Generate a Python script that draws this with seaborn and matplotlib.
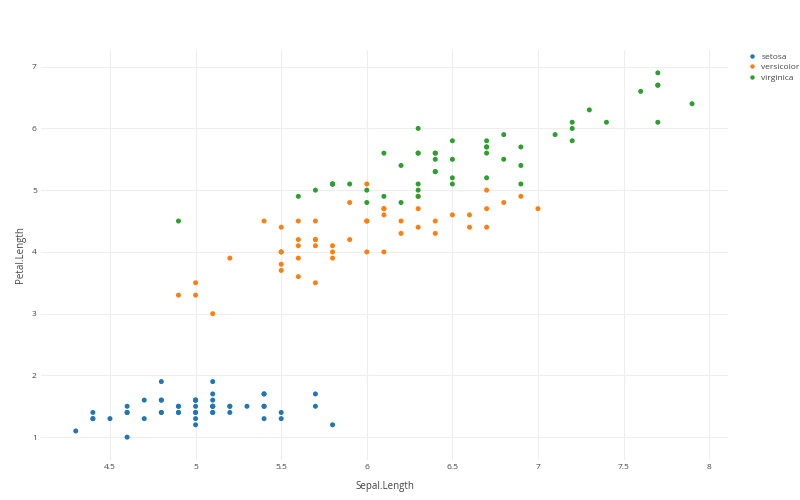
import matplotlib
matplotlib.use("Agg")
import matplotlib.pyplot as plt
import seaborn as sns
import pandas as pd

setosa_sepal = [5.1,4.9,4.7,4.6,5.0,5.4,4.6,5.0,4.4,4.9,5.4,4.8,4.8,4.3,5.8,5.7,5.4,5.1,5.7,5.1,
                5.4,5.1,4.6,5.1,4.8,5.0,5.0,5.2,5.2,4.7,4.8,5.4,5.2,5.5,4.9,5.0,5.5,4.9,4.4,5.1,
                5.0,4.5,4.4,5.0,5.1,4.8,5.1,4.6,5.3,5.0]
setosa_petal = [1.4,1.4,1.3,1.5,1.4,1.7,1.4,1.5,1.4,1.5,1.5,1.6,1.4,1.1,1.2,1.5,1.3,1.4,1.7,1.5,
                1.7,1.5,1.0,1.7,1.9,1.6,1.6,1.5,1.4,1.6,1.6,1.5,1.5,1.4,1.5,1.2,1.3,1.4,1.3,1.5,
                1.3,1.3,1.3,1.6,1.9,1.4,1.6,1.4,1.5,1.4]
versicolor_sepal = [7.0,6.4,6.9,5.5,6.5,5.7,6.3,4.9,6.6,5.2,5.0,5.9,6.0,6.1,5.6,6.7,5.6,5.8,6.2,5.6,
                    5.9,6.1,6.3,6.1,6.4,6.6,6.8,6.7,6.0,5.7,5.5,5.5,5.8,6.0,5.4,6.0,6.7,6.3,5.6,5.5,
                    5.5,6.1,5.8,5.0,5.6,5.7,5.7,6.2,5.1,5.7]
versicolor_petal = [4.7,4.5,4.9,4.0,4.6,4.5,4.7,3.3,4.6,3.9,3.5,4.2,4.0,4.7,3.6,4.4,4.5,4.1,4.5,3.9,
                    4.8,4.0,4.9,4.7,4.3,4.4,4.8,5.0,4.5,3.5,3.8,3.7,3.9,5.1,4.5,4.5,4.7,4.4,4.1,4.0,
                    4.4,4.6,4.0,3.3,4.2,4.2,4.2,4.3,3.0,4.1]
virginica_sepal = [6.3,5.8,7.1,6.3,6.5,7.6,4.9,7.3,6.7,7.2,6.5,6.4,6.8,5.7,5.8,6.4,6.5,7.7,7.7,6.0,
                   6.9,5.6,7.7,6.3,6.7,7.2,6.2,6.1,6.4,7.2,7.4,7.9,6.4,6.3,6.1,7.7,6.3,6.4,6.0,6.9,
                   6.7,6.9,5.8,6.8,6.7,6.7,6.3,6.5,6.2,5.9]
virginica_petal = [6.0,5.1,5.9,5.6,5.8,6.6,4.5,6.3,5.8,6.1,5.1,5.3,5.5,5.0,5.1,5.3,5.5,6.7,6.9,5.0,
                   5.7,4.9,6.7,4.9,5.7,6.0,4.8,4.9,5.6,5.8,6.1,6.4,5.6,5.1,5.6,6.1,5.6,5.5,4.8,5.4,
                   5.6,5.1,5.1,5.9,5.7,5.2,5.0,5.2,5.4,5.1]

species = ["setosa", "versicolor", "virginica"]
colors = ["#1f77b4", "#ff7f0e", "#2ca02c"]
x_ticks = [4.5, 5, 5.5, 6, 6.5, 7, 7.5, 8]
x_tick_labels = ["4.5", "5", "5.5", "6", "6.5", "7", "7.5", "8"]
y_ticks = [1, 2, 3, 4, 5, 6, 7]

df = pd.DataFrame({
    "Sepal.Length": setosa_sepal + versicolor_sepal + virginica_sepal,
    "Petal.Length": setosa_petal + versicolor_petal + virginica_petal,
    "Species": ["setosa"] * len(setosa_sepal) + ["versicolor"] * len(versicolor_sepal)
               + ["virginica"] * len(virginica_sepal),
})

sns.set_style("white")
plt.rcParams["font.family"] = ["Open Sans", "DejaVu Sans"]

fig = plt.figure(figsize=(8, 5), dpi=100)
ax = fig.add_axes([41/800, 40/500, (728-41)/800, (460-50)/500])

sns.scatterplot(data=df, x="Sepal.Length", y="Petal.Length", hue="Species",
                hue_order=species, palette=colors, s=13, linewidth=0, ax=ax,
                legend=False, zorder=3)

ax.set_xlim(4.097, 8.11)
ax.set_ylim(0.63, 7.27)
ax.set_xticks(x_ticks)
ax.set_xticklabels(x_tick_labels)
ax.set_yticks(y_ticks)
ax.grid(True, color="#eeeeee", linewidth=0.8)
ax.set_axisbelow(True)
for sp in ax.spines.values():
    sp.set_visible(False)
ax.tick_params(axis="both", length=0, labelsize=6, colors="#444444", pad=3)
ax.set_xlabel("Sepal.Length", fontsize=7, color="#444444", labelpad=7)
ax.set_ylabel("Petal.Length", fontsize=7, color="#444444", labelpad=4)

handles = [plt.Line2D([], [], marker="o", linestyle="", markersize=3.2,
                      markerfacecolor=c, markeredgewidth=0) for c in colors]
fig.legend(handles, species, loc="upper left", bbox_to_anchor=(747/800, 1 - 53/500),
           frameon=False, fontsize=6, labelcolor="#444444", handletextpad=0.5,
           handlelength=1.2, labelspacing=0.3, borderpad=0.0, borderaxespad=0.0)

fig.savefig("out.png", dpi=100)
